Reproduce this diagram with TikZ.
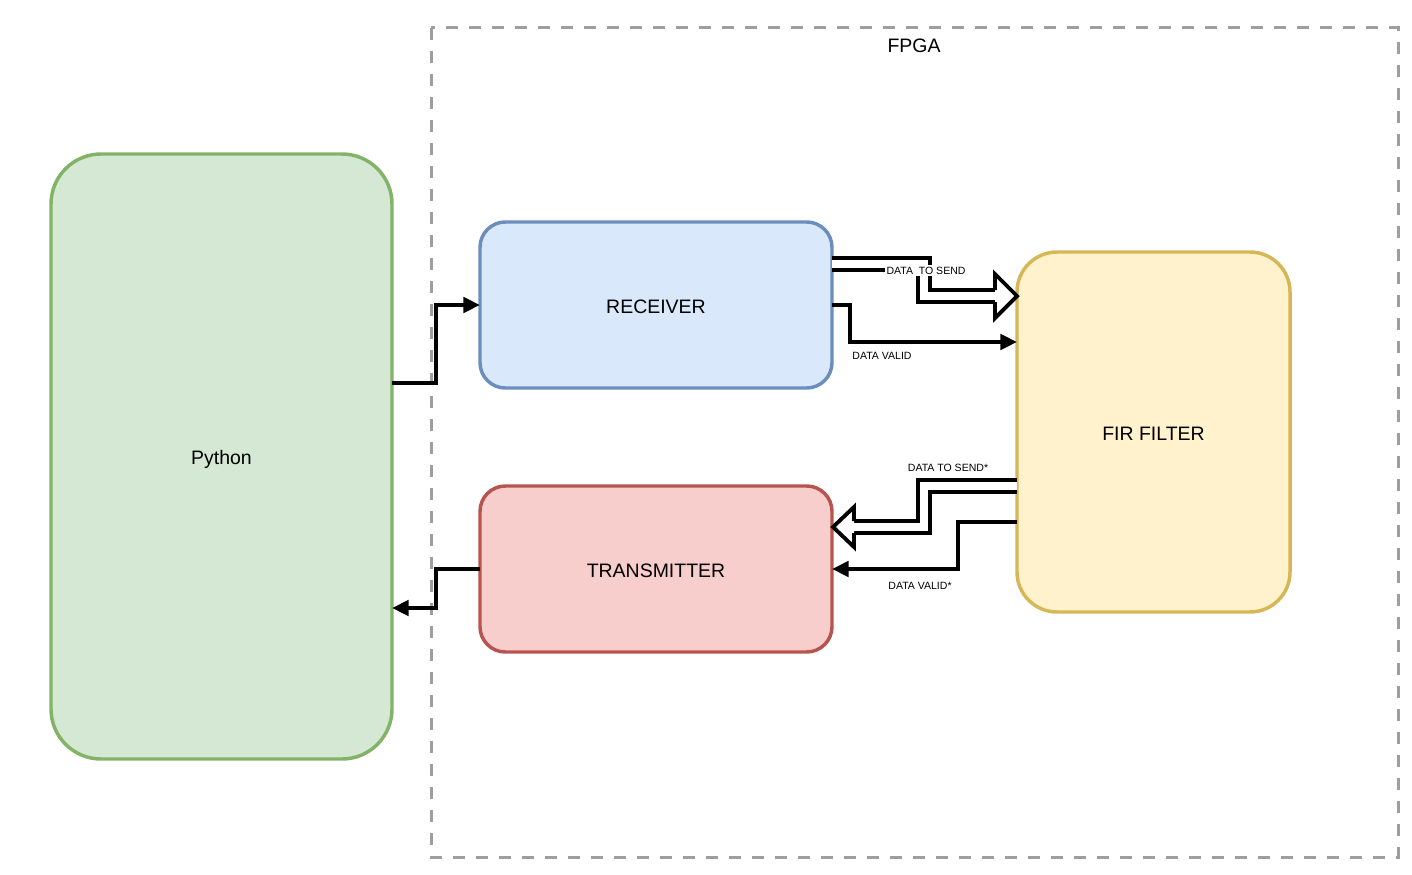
\documentclass[tikz,border=0pt]{standalone}
\usepackage{fontspec}
\setmainfont{Liberation Sans}
\usetikzlibrary{calc,arrows.meta}
\definecolor{pyfill}{HTML}{D5E8D4}
\definecolor{pydraw}{HTML}{82B366}
\definecolor{rxfill}{HTML}{DAE8FC}
\definecolor{rxdraw}{HTML}{6C8EBF}
\definecolor{txfill}{HTML}{F8CECC}
\definecolor{txdraw}{HTML}{B85450}
\definecolor{firfill}{HTML}{FFF2CC}
\definecolor{firdraw}{HTML}{D6B656}
\definecolor{fpgagray}{HTML}{9E9E9E}
\begin{document}
\begin{tikzpicture}[x=0.75pt,y=-0.75pt,
  box/.style={shape=rectangle, inner sep=0pt, outer sep=0pt, line width=2.6pt,
    font=\fontsize{14.6}{17}\selectfont},
  small/.style={font=\fontsize{7.9}{9.5}\selectfont, inner sep=1pt},
  conn/.style={line width=2.9pt, line join=miter, -{Triangle[length=12.5pt,width=11.5pt]}},
  fatshaft/.style={line width=2.9pt, draw=black, double=white, double distance=6.1pt, line join=miter},
  fathead/.style={line width=2.9pt, draw=black, fill=white, line join=miter},
  fpga/.style={draw=fpgagray, line width=2.25pt, dash pattern=on 9pt off 8.25pt}
]
\useasboundingbox (0,0) rectangle (1412,874);

% FPGA region
\draw[fpga] (431,28) rectangle (1398,857);
\node[font=\fontsize{14.6}{17}\selectfont] (fpgalabel) at (914,46) {FPGA};

% Blocks
\node[box, fill=pyfill, draw=pydraw, rounded corners=37.5pt,
  minimum width=255.75pt, minimum height=453.75pt] (py) at (221.5,456.5) {};
\node[font=\fontsize{14.6}{17}\selectfont] (pylabel) at (221.5,459) {Python};
\node[box, fill=rxfill, draw=rxdraw, rounded corners=19pt,
  minimum width=264pt, minimum height=124.5pt] (rec) at (656,305) {};
\node[font=\fontsize{14.6}{17}\selectfont] (reclabel) at (656,307) {RECEIVER};
\node[box, fill=txfill, draw=txdraw, rounded corners=19pt,
  minimum width=264pt, minimum height=124.5pt] (tx) at (656,569) {};
\node[font=\fontsize{14.6}{17}\selectfont] (txlabel) at (656,570.5) {TRANSMITTER};
\node[box, fill=firfill, draw=firdraw, rounded corners=30pt,
  minimum width=204.75pt, minimum height=270pt] (fir) at (1153.5,432) {};
\node[font=\fontsize{14.6}{17}\selectfont] (firlabel) at (1153.5,433.5) {FIR FILTER};

% Python <-> FPGA
\draw[conn] ($(py.east)+(0,-73.5)$) -- ++(44,0) |- (rec.west);
\draw[conn] (tx.west) -- ++(-44,0) |- ($(py.east)+(0,151.5)$);

% DATA VALID
\draw[conn] (rec.east) -- ++(18,0) |- ($(fir.west)+(0,-90)$);
\node[small] (dvlabel) at (882,355.5) {DATA VALID};

% DATA VALID*
\draw[conn] ($(fir.west)+(0,90)$) -- ++(-59,0) |- (tx.east);
\node[small] (dvslabel) at (920,585.5) {DATA VALID*};

% DATA TO SEND (fat arrow)
\coordinate (dsTip) at ($(fir.west)+(0,-136)$);
\coordinate (dsBase) at ($(dsTip)+(-22,0)$);
\draw[fatshaft] ($(rec.east)+(0,-41)$) -- ++(92,0) |- ($(dsBase)+(1,0)$);
\draw[fathead] ($(dsBase)+(0,-6)$) -- ++(0,-16) -- (dsTip) -- ($(dsBase)+(0,22)$) -- ++(0,-16);
\node[small, fill=white] (dslabel) at (926,270.5) {DATA\ \ TO SEND};

% DATA TO SEND* (fat arrow)
\coordinate (dssTip) at ($(tx.east)+(1,-42)$);
\coordinate (dssBase) at ($(dssTip)+(21,0)$);
\draw[fatshaft] ($(fir.west)+(0,54)$) -- ++(-93,0) |- ($(dssBase)+(-1,0)$);
\draw[fathead] ($(dssBase)+(0,-6)$) -- ++(0,-14) -- (dssTip) -- ($(dssBase)+(0,20)$) -- ++(0,-14);
\node[small] (dsslabel) at (948,467.5) {DATA TO SEND*};
\end{tikzpicture}
\end{document}
